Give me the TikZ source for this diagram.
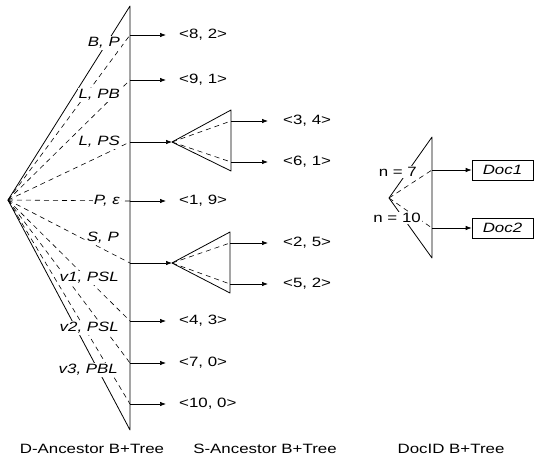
\documentclass[tikz,border=0pt]{standalone}
\usepackage{fontspec}
\setmainfont{Liberation Sans}[FakeStretch=1.25]
\usepackage{tikz}
\usetikzlibrary{arrows.meta}

\newcommand{\figfont}{\fontsize{13.5}{16}\selectfont}

\tikzset{
  edge/.style={line width=0.8pt,line join=round},
  keyline/.style={line width=0.6pt,dash pattern=on 5pt off 4pt},
  ptr/.style={line width=0.7pt,-{Latex[length=6pt,width=4.5pt]}},
  toval/.style={ptr,shorten >=13pt},
  key/.style={anchor=east,fill=white,inner sep=1pt,font=\figfont\itshape},
  nkey/.style={key,font=\figfont},
  val/.style={anchor=west,inner sep=0pt},
  docbox/.style={draw,line width=0.7pt,font=\figfont\itshape,minimum width=61pt,minimum height=20pt,inner sep=0pt},
}

\begin{document}
\begin{tikzpicture}[x=1pt,y=-1pt,font=\figfont]
  \useasboundingbox (0,0) rectangle (534,458);

  % D-Ancestor tree
  \coordinate (dapex) at (8,200);
  \coordinate (dtop) at (130,6);
  \coordinate (dbot) at (130,430);
  \draw[edge] (dtop) -- (dapex) -- (dbot) -- cycle;
  \foreach \y [count=\i] in {35,80,142,201,263,321,363,404} {
    \coordinate (d\i) at (130,\y);
    \draw[keyline] (dapex) -- (d\i);
  }
  \node[key] (kbp) at (121,43) {B, P};
  \node[key] (klpb) at (121,95) {L, PB};
  \node[key] (klps) at (121,142) {L, PS};
  \node[key] (kpe) at (121,201) {P, ε};
  \node[key] (ksp) at (120,238) {S, P};
  \node[key] (kv1) at (120,278) {v1, PSL};
  \node[key] (kv2) at (120,328) {v2, PSL};
  \node[key] (kv3) at (119,370) {v3, PBL};

  \node[val] (v82) at (179,35) {<8, 2>};
  \node[val] (v91) at (179,80) {<9, 1>};
  \node[val] (v19) at (179,201) {<1, 9>};
  \node[val] (v43) at (179,321) {<4, 3>};
  \node[val] (v70) at (179,363) {<7, 0>};
  \node[val] (v100) at (179,404) {<10, 0>};
  \draw[toval] (d1) -- (v82.west);
  \draw[toval] (d2) -- (v91.west);
  \draw[toval] (d4) -- (v19.west);
  \draw[toval] (d6) -- (v43.west);
  \draw[toval] (d7) -- (v70.west);
  \draw[toval] (d8) -- (v100.west);

  % S-Ancestor trees
  \coordinate (saapex) at (172,142);
  \coordinate (satop) at (231,110);
  \coordinate (sabot) at (231,171);
  \coordinate (sa1) at (231,121);
  \coordinate (sa2) at (231,162);
  \draw[ptr] (d3) -- (saapex);
  \draw[edge] (satop) -- (saapex) -- (sabot) -- cycle;
  \draw[keyline] (saapex) -- (sa1) (saapex) -- (sa2);
  \node[val] (v34) at (283,121) {<3, 4>};
  \node[val] (v61) at (283,162) {<6, 1>};
  \draw[ptr,shorten >=15pt] (sa1) -- (v34.west);
  \draw[ptr,shorten >=15pt] (sa2) -- (v61.west);

  \coordinate (sbapex) at (172,263);
  \coordinate (sbtop) at (230,232);
  \coordinate (sbbot) at (230,293);
  \coordinate (sb1) at (230,243);
  \coordinate (sb2) at (230,284);
  \draw[ptr] (d5) -- (sbapex);
  \draw[edge] (sbtop) -- (sbapex) -- (sbbot) -- cycle;
  \draw[keyline] (sbapex) -- (sb1) (sbapex) -- (sb2);
  \node[val] (v25) at (283,243) {<2, 5>};
  \node[val] (v52) at (283,284) {<5, 2>};
  \draw[ptr,shorten >=15pt] (sb1) -- (v25.west);
  \draw[ptr,shorten >=15pt] (sb2) -- (v52.west);

  % DocID tree
  \coordinate (xapex) at (389,198);
  \coordinate (xtop) at (432,137);
  \coordinate (xbot) at (432,258);
  \coordinate (x1) at (432,170);
  \coordinate (x2) at (432,228);
  \draw[edge] (xtop) -- (xapex) -- (xbot) -- cycle;
  \draw[keyline] (xapex) -- (x1) (xapex) -- (x2);
  \node[nkey] (kn7) at (418,172) {n = 7};
  \node[nkey] (kn10) at (422,218) {n = 10};
  \node[docbox] (doc1) at (502.5,170) {Doc1};
  \node[docbox] (doc2) at (502.5,228) {Doc2};
  \draw[ptr] (x1) -- (doc1.west);
  \draw[ptr] (x2) -- (doc2.west);

  \node (dcap) at (92,449) {D-Ancestor B+Tree};
  \node (scap) at (265,449) {S-Ancestor B+Tree};
  \node (xcap) at (451,449) {DocID B+Tree};
\end{tikzpicture}
\end{document}
